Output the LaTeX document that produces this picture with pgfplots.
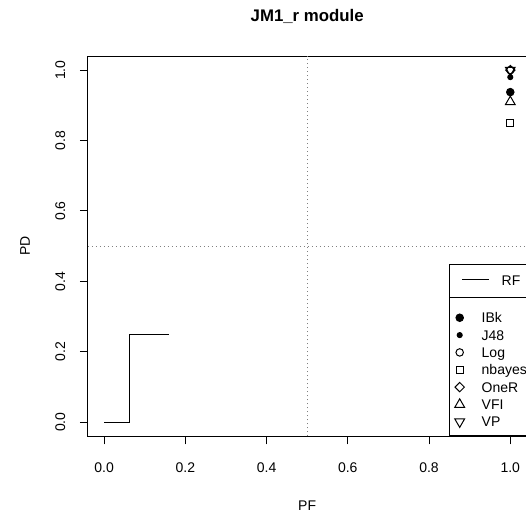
\documentclass[border=0pt]{standalone}
\usepackage{fontspec}
\setmainfont{Liberation Sans}
\usepackage{pgfplots}
\pgfplotsset{compat=1.18}

% common frame of both axes (plot region, R-style 4% padding)
\pgfplotsset{
  rocframe/.style={
    at={(0pt,0pt)}, anchor=south west,
    scale only axis, width=328.9pt, height=285.1pt,
    xmin=-0.04, xmax=1.04, ymin=-0.04, ymax=1.04,
  },
}

\begin{document}
\fontsize{10.5}{12.6}\selectfont
\begin{tikzpicture}
\path[use as bounding box, clip] (-65.85pt,-58.4pt) rectangle (328.5pt,327.1pt);

\begin{axis}[rocframe,
  axis line style={line width=0.75pt},
  tick style={line width=0.75pt, black},
  tick align=outside, major tick length=6pt,
  xtick pos=bottom, ytick pos=left,
  xtick={0,0.2,0.4,0.6,0.8,1}, ytick={0,0.2,0.4,0.6,0.8,1},
  xticklabels={0.0,0.2,0.4,0.6,0.8,1.0},
  yticklabels={0.0,0.2,0.4,0.6,0.8,1.0},
  xticklabel style={anchor=base, yshift=-21pt},
  yticklabel style={rotate=90, anchor=base, yshift=11pt},
  title={\bfseries\fontsize{12.6}{15}\selectfont JM1\_r module},
  every axis title/.style={at={(0.5,1)}, anchor=base, yshift=26.2pt},
  xlabel={PF}, ylabel={PD},
  every axis x label/.style={at={(0.5,0)}, anchor=base, yshift=-55.4pt},
  every axis y label/.style={at={(0,0.5)}, xshift=-43.4pt, rotate=90, anchor=base},
  legend style={at={(0.8237,0.3632)}, anchor=south west,
    draw=black, line width=0.75pt, fill=white,
    inner xsep=9pt, inner ysep=7.875pt,
    column sep=9pt, row sep=0pt,
    nodes={inner sep=0pt, text height=7.5pt, text depth=1.5pt}},
  legend cell align=left,
  legend image code/.code={\draw[#1] (0pt,1.5pt) -- (20.25pt,1.5pt);},
]
% random forest step curve
\addplot[black, line width=0.75pt] coordinates {
  (0,0) (0.0625,0) (0.0625,0.25) (0.16,0.25)
};
\addlegendentry{RF}

% reference lines
\addplot[black!50, line width=0.75pt, dash pattern=on 0.75pt off 2.25pt, forget plot]
  coordinates {(0.5,-0.04) (0.5,1.04)};
\addplot[black!50, line width=0.75pt, dash pattern=on 0.75pt off 2.25pt, forget plot]
  coordinates {(-0.04,0.5) (1.04,0.5)};

% classifiers (PF, PD)
\addplot[black, only marks, mark=*, mark size=2.8pt, line width=0.75pt, forget plot]
  coordinates {(1,0.9375)};
\addplot[black, only marks, mark=*, mark size=1.9pt, line width=0.75pt, forget plot]
  coordinates {(1,0.98)};
\addplot[black, only marks, mark=o, mark size=2.8pt, line width=0.75pt, forget plot]
  coordinates {(1,1)};
\addplot[black, only marks, mark=square, mark size=2.5pt, line width=0.75pt, forget plot]
  coordinates {(1,0.85)};
\addplot[black, only marks, mark=square, mark size=2.48pt, mark options={rotate=45}, line width=0.75pt, forget plot]
  coordinates {(1,1)};
\addplot[black, only marks, mark=triangle, mark size=4.2pt, line width=0.75pt, forget plot]
  coordinates {(1,0.91)};
\addplot[black, only marks, mark=triangle, mark size=4.2pt, mark options={rotate=180}, line width=0.75pt, forget plot]
  coordinates {(1,1)};
\end{axis}

% legend of the classifier symbols
\begin{axis}[rocframe, hide axis,
  legend style={at={(0.8237,0)}, anchor=south west,
    draw=black, line width=0.75pt, fill=white,
    inner xsep=3pt, inner ysep=6.25pt,
    column sep=12pt, row sep=0pt,
    nodes={inner sep=0pt, text height=12.5pt, text depth=0.5pt}},
  legend cell align=left,
  legend image code/.code={\path[draw=none, fill=none] (0pt,-2.25pt) -- (9pt,-2.25pt);
    \draw[#1] plot coordinates {(4.5pt,-2.25pt)};},
]
\addlegendimage{black, draw=none, mark=*, mark size=2.8pt, line width=0.75pt, mark options={draw=black, fill=black}}
\addlegendentry{IBk}
\addlegendimage{black, draw=none, mark=*, mark size=1.9pt, line width=0.75pt, mark options={draw=black, fill=black}}
\addlegendentry{J48}
\addlegendimage{black, draw=none, mark=o, mark size=2.8pt, line width=0.75pt, mark options={draw=black}}
\addlegendentry{Log}
\addlegendimage{black, draw=none, mark=square, mark size=2.5pt, line width=0.75pt, mark options={draw=black}}
\addlegendentry{\makebox[44pt][l]{nbayes}}
\addlegendimage{black, draw=none, mark=square, mark size=2.48pt, mark options={draw=black, rotate=45}, line width=0.75pt}
\addlegendentry{OneR}
\addlegendimage{black, draw=none, mark=triangle, mark size=4.2pt, line width=0.75pt, mark options={draw=black}}
\addlegendentry{VFI}
\addlegendimage{black, draw=none, mark=triangle, mark size=4.2pt, mark options={draw=black, rotate=180}, line width=0.75pt}
\addlegendentry{VP}
\end{axis}
\end{tikzpicture}
\end{document}
